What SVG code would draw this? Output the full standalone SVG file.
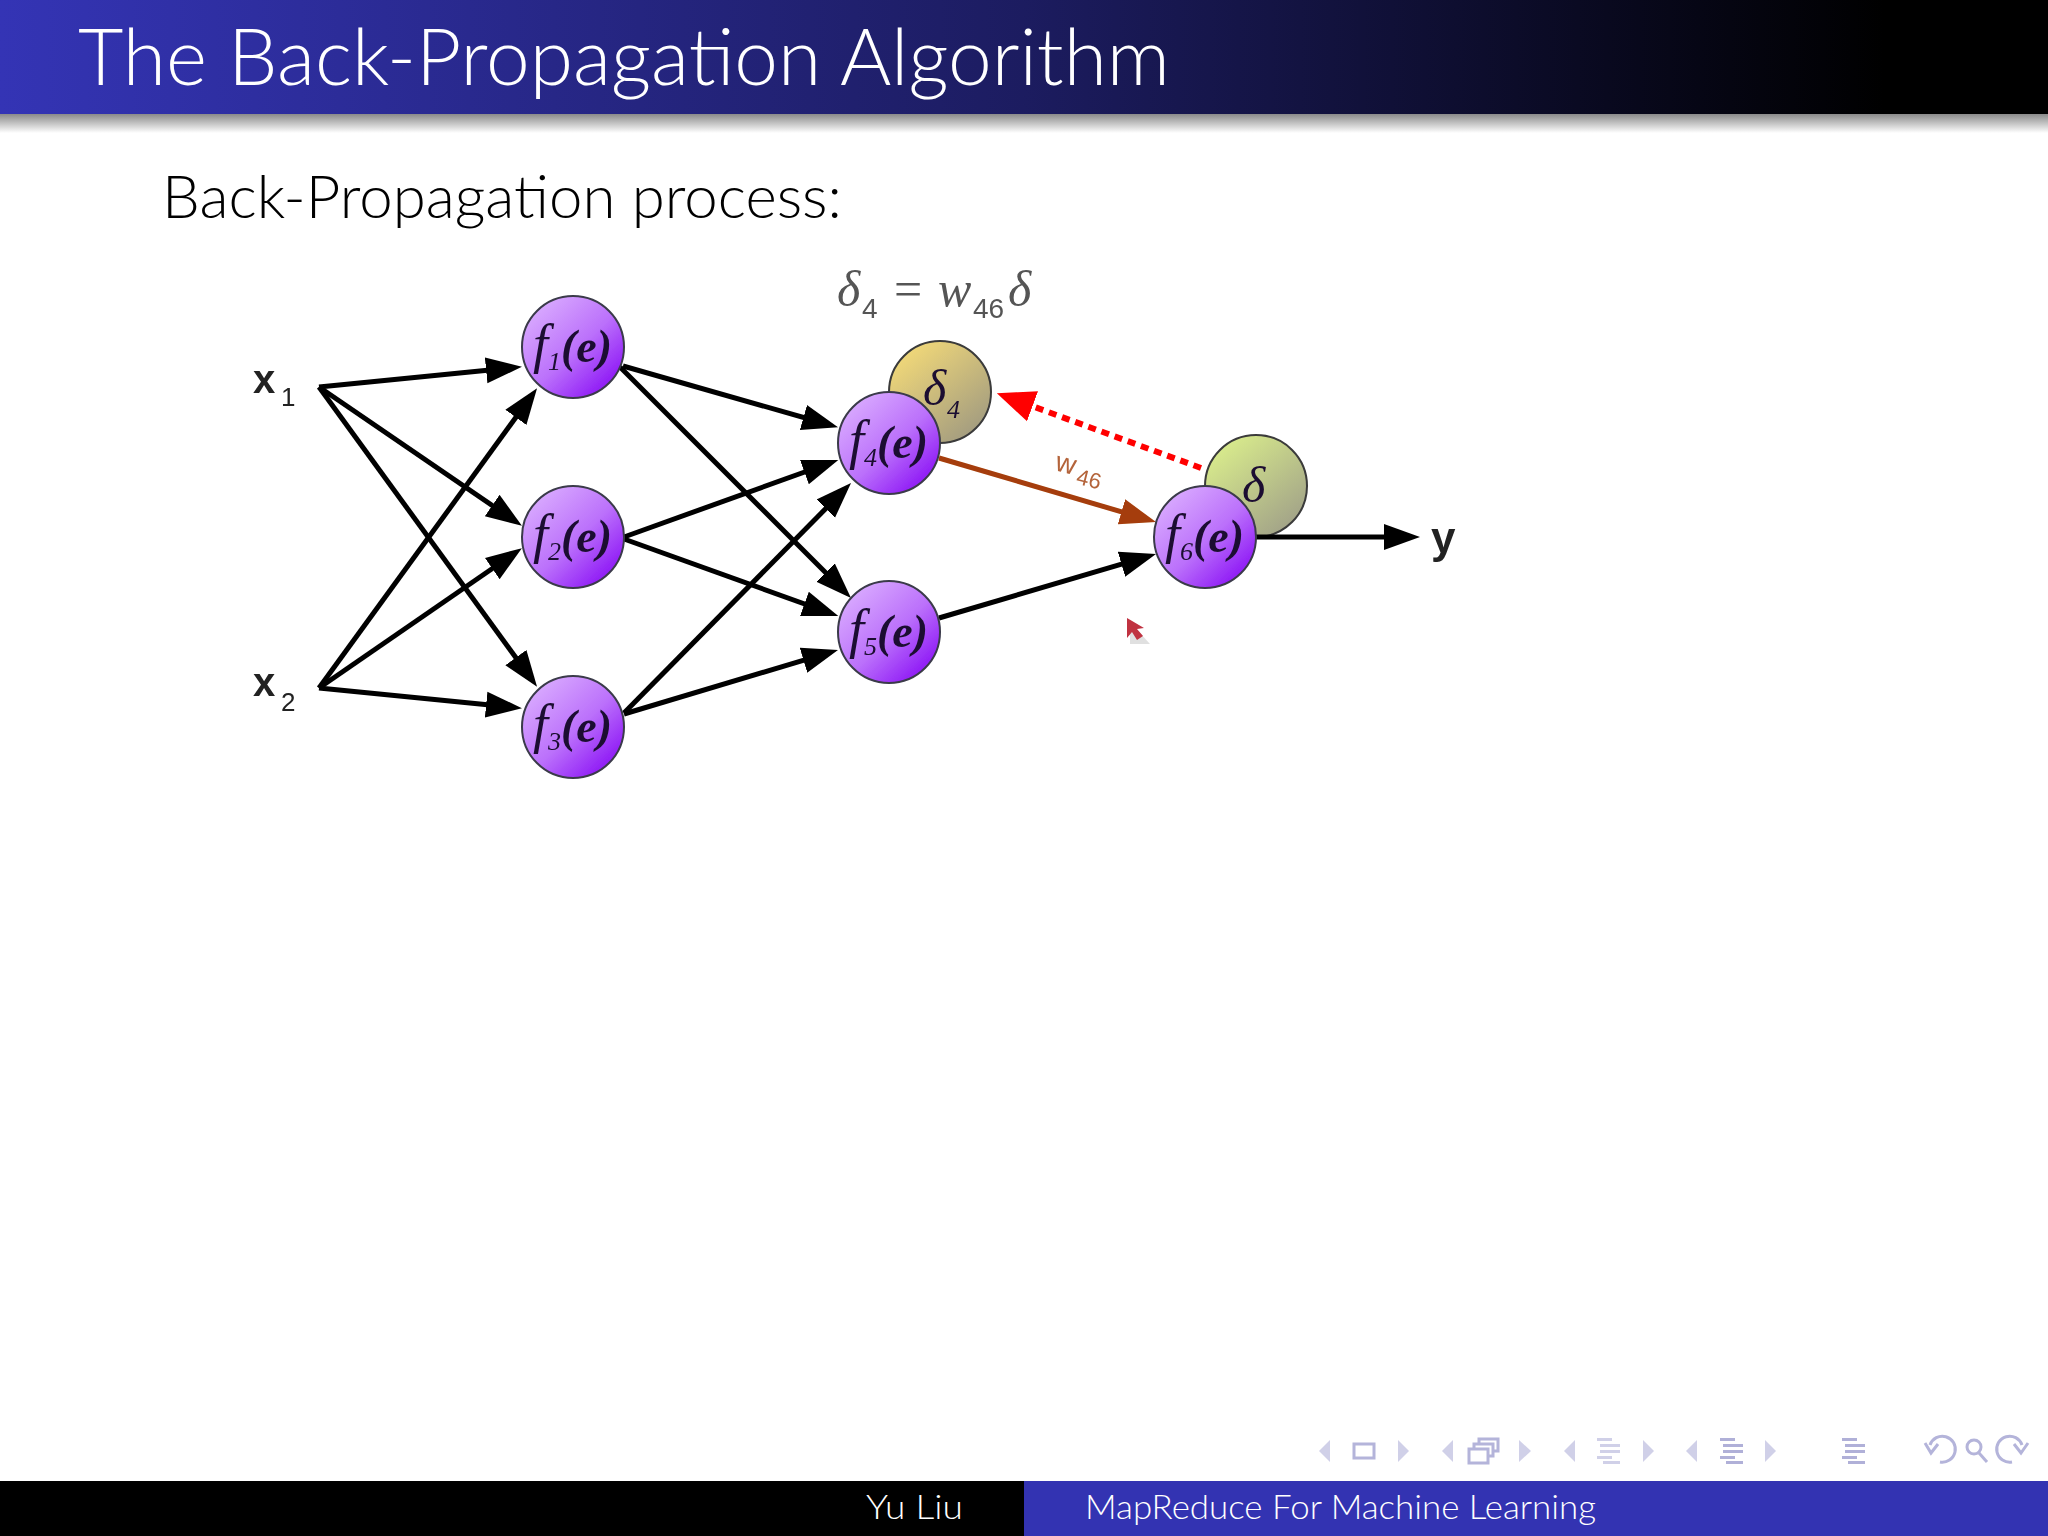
<svg xmlns="http://www.w3.org/2000/svg" width="2048" height="1536" viewBox="0 0 2048 1536">
<defs>
<linearGradient id="hdr" x1="0" y1="0" x2="1" y2="0"><stop offset="0" stop-color="#3434b5"/><stop offset="0.5" stop-color="#1c1c60"/><stop offset="0.92" stop-color="#000"/></linearGradient>
<linearGradient id="shd" x1="0" y1="0" x2="0" y2="1"><stop offset="0" stop-color="#8a8a8a"/><stop offset="1" stop-color="#fff"/></linearGradient>
<linearGradient id="pur" x1="0.05" y1="0.1" x2="0.85" y2="0.95"><stop offset="0" stop-color="#dcb0ff"/><stop offset="0.55" stop-color="#bb70fb"/><stop offset="1" stop-color="#8a10f5"/></linearGradient>
<linearGradient id="yel" x1="0.1" y1="0.05" x2="0.85" y2="0.95"><stop offset="0" stop-color="#f6dc78"/><stop offset="1" stop-color="#a09a80"/></linearGradient>
<linearGradient id="grn" x1="0.1" y1="0.05" x2="0.85" y2="0.95"><stop offset="0" stop-color="#dcf08c"/><stop offset="1" stop-color="#a0a088"/></linearGradient>
<marker id="ab" markerUnits="userSpaceOnUse" markerWidth="40" markerHeight="30" refX="24" refY="14" orient="auto"><path d="M0 1L36 14L0 27Z" fill="#000"/></marker>
<marker id="ar" markerUnits="userSpaceOnUse" markerWidth="40" markerHeight="36" refX="24" refY="18" orient="auto"><path d="M0 2L38 18L0 34Z" fill="#f00"/></marker>
<marker id="abr" markerUnits="userSpaceOnUse" markerWidth="40" markerHeight="30" refX="24" refY="14" orient="auto"><path d="M0 1L36 14L0 27Z" fill="#a53c08"/></marker>
<filter id="soft" x="-5%" y="-5%" width="110%" height="110%"><feGaussianBlur stdDeviation="0.7"/></filter>
</defs>
<style>
.cm{font-family:"Lato","Open Sans","Liberation Sans",sans-serif;font-weight:300}
.c{fill:none;stroke:#000;stroke-width:5;marker-end:url(#ab)}
.n{stroke:#3a3a4a;stroke-width:2;fill:url(#pur)}
.l{font-family:"Liberation Serif",serif;font-style:italic;fill:#1c1030}
.inp{font-family:"Liberation Sans",sans-serif;font-weight:bold;fill:#222}
.sub{font-family:"Liberation Sans",sans-serif;fill:#222}
.nav{fill:#d0d0e8;stroke:none}
.navd{fill:#b0b0d8;stroke:none}
.navs{fill:none;stroke:#b4b4da;stroke-width:3}
</style>
<rect width="2048" height="1536" fill="#fff"/>

<g id="header">
<rect x="0" y="114" width="2048" height="19" fill="url(#shd)"/>
<rect x="0" y="0" width="2048" height="114" fill="url(#hdr)"/>
<text class="cm" x="78" y="85" font-size="78" fill="#fff" textLength="1092" lengthAdjust="spacingAndGlyphs">The Back-Propagation Algorithm</text>
</g>
<text id="subtitle" class="cm" x="162" y="218" font-size="60" fill="#000" textLength="680" lengthAdjust="spacingAndGlyphs">Back-Propagation process:</text>

<g id="diagram" filter="url(#soft)">
<g id="formula" font-family="Liberation Serif, serif" fill="#555">
<text x="837" y="306" font-size="50" font-style="italic">δ</text>
<text x="862" y="318" font-size="28" font-family="Liberation Sans, sans-serif">4</text>
<text x="894" y="306" font-size="50">=</text>
<text x="938" y="306" font-size="50" font-style="italic">w</text>
<text x="973" y="318" font-size="28" font-family="Liberation Sans, sans-serif">46</text>
<text x="1008" y="306" font-size="50" font-style="italic">δ</text>
</g>
<g id="input-x1"><text class="inp" x="253" y="393" font-size="40">x</text><text class="sub" x="281" y="406" font-size="26">1</text></g>
<g id="input-x2"><text class="inp" x="253" y="696" font-size="40">x</text><text class="sub" x="281" y="711" font-size="26">2</text></g>
<g id="output-y"><text class="inp" x="1431" y="553" font-size="44">y</text></g>

<g id="delta4"><circle cx="940" cy="392" r="51" fill="url(#yel)" stroke="#3a3a3a" stroke-width="2"/>
<text class="l" x="923" y="405" font-size="50" fill="#111">δ</text><text class="l" x="947" y="418" font-size="26" fill="#222">4</text></g>
<g id="delta"><circle cx="1256" cy="486" r="51" fill="url(#grn)" stroke="#3a3a3a" stroke-width="2"/>
<text class="l" x="1242" y="502" font-size="50" fill="#111">δ</text></g>

<g id="connectors">
<path class="c" d="M319 387L510 368"/>
<path class="c" d="M319 387L512 519"/>
<path class="c" d="M319 387L530 677"/>
<path class="c" d="M319 688L530 398"/>
<path class="c" d="M319 688L512 555"/>
<path class="c" d="M319 688L510 707"/>
<path class="c" d="M623 366L826.500 424"/>
<path class="c" d="M620 367L842.500 589.500"/>
<path class="c" d="M624 537L827 464"/>
<path class="c" d="M624 539L827 612"/>
<path class="c" d="M624 713L842.600 491.500"/>
<path class="c" d="M624 714L826.500 653.400"/>
<path class="c" d="M939 458L1144.500 518.600" style="stroke:#a53c08;marker-end:url(#abr)"/>
<path class="c" d="M939 618L1144.500 557.400"/>
<path class="c" d="M1256 537L1408 537"/>
<path d="M1201 468L1010 398" fill="none" stroke="#f00" stroke-width="6" stroke-dasharray="8 6" marker-end="url(#ar)"/>
</g>

<g id="f1"><circle class="n" cx="573" cy="347" r="51"/><text class="l" x="533" y="362" font-size="46"><tspan font-size="54">f</tspan><tspan font-size="26" dy="8">1</tspan><tspan dy="-8" font-weight="bold">(e)</tspan></text></g>
<g id="f2"><circle class="n" cx="573" cy="537" r="51"/><text class="l" x="533" y="552" font-size="46"><tspan font-size="54">f</tspan><tspan font-size="26" dy="8">2</tspan><tspan dy="-8" font-weight="bold">(e)</tspan></text></g>
<g id="f3"><circle class="n" cx="573" cy="727" r="51"/><text class="l" x="533" y="742" font-size="46"><tspan font-size="54">f</tspan><tspan font-size="26" dy="8">3</tspan><tspan dy="-8" font-weight="bold">(e)</tspan></text></g>
<g id="f4"><circle class="n" cx="889" cy="443" r="51"/><text class="l" x="849" y="458" font-size="46"><tspan font-size="54">f</tspan><tspan font-size="26" dy="8">4</tspan><tspan dy="-8" font-weight="bold">(e)</tspan></text></g>
<g id="f5"><circle class="n" cx="889" cy="632" r="51"/><text class="l" x="849" y="647" font-size="46"><tspan font-size="54">f</tspan><tspan font-size="26" dy="8">5</tspan><tspan dy="-8" font-weight="bold">(e)</tspan></text></g>
<g id="f6"><circle class="n" cx="1205" cy="537" r="51"/><text class="l" x="1165" y="552" font-size="46"><tspan font-size="54">f</tspan><tspan font-size="26" dy="8">6</tspan><tspan dy="-8" font-weight="bold">(e)</tspan></text></g>

<g id="w46-label" transform="rotate(14 1054 470)" fill="#b4643a" font-family="Liberation Sans, sans-serif"><text x="1054" y="470" font-size="28">w</text><text x="1078" y="478" font-size="22">46</text></g>
<g id="cursor"><path d="M1130 622L1130 644L1150 644Z" fill="#ccc" opacity="0.6"/><path d="M1127 618L1127 638L1132 632L1137 640L1143 636L1137 629L1144 628Z" fill="#c03040"/></g>
</g>

<g id="footer">
<rect x="0" y="1481" width="1024" height="55" fill="#000"/>
<rect x="1024" y="1481" width="1024" height="55" fill="#3333b2"/>
<text class="cm" x="866" y="1519" font-size="34" fill="#fff" textLength="97" lengthAdjust="spacingAndGlyphs">Yu Liu</text>
<text class="cm" x="1085" y="1519" font-size="34" fill="#fff" textLength="511" lengthAdjust="spacingAndGlyphs">MapReduce For Machine Learning</text>
</g>

<g id="navigation">
<path class="nav" d="M1330 1440L1319 1451L1330 1462Z"/>
<rect class="navs" x="1354" y="1444" width="20" height="14"/>
<path class="nav" d="M1398 1440L1409 1451L1398 1462Z"/>
<path class="nav" d="M1453 1440L1442 1451L1453 1462Z"/>
<rect class="navs" x="1469" y="1449" width="19" height="14" fill="#fff"/>
<path class="navs" d="M1474 1449V1444H1493V1456H1488M1479 1444V1439H1498V1451H1493"/>
<path class="nav" d="M1519 1440L1531 1451L1519 1462Z"/>
<path class="nav" d="M1575 1440L1564 1451L1575 1462Z"/>
<path class="nav" d="M1597 1438H1612V1441H1597ZM1600 1444H1620V1447H1600ZM1600 1450H1620V1453H1600ZM1597 1456H1612V1459H1597ZM1603 1461H1620V1464H1603Z"/>
<path class="nav" d="M1643 1440L1654 1451L1643 1462Z"/>
<path class="nav" d="M1697 1440L1686 1451L1697 1462Z"/>
<path class="navd" d="M1720 1438H1735V1441H1720ZM1723 1444H1743V1447H1723ZM1723 1450H1743V1453H1723ZM1720 1456H1735V1459H1720ZM1726 1461H1743V1464H1726Z"/>
<path class="nav" d="M1765 1440L1776 1451L1765 1462Z"/>
<path class="navd" d="M1842 1438H1857V1441H1842ZM1845 1444H1865V1447H1845ZM1845 1450H1865V1453H1845ZM1842 1456H1857V1459H1842ZM1848 1461H1865V1464H1848Z"/>
<path class="navs" d="M1930 1445A13 13 0 1 1 1940 1462M1925 1443L1931 1453L1938 1444"/>
<circle class="navs" cx="1974" cy="1447" r="7"/><path class="navs" d="M1979 1453L1987 1462" stroke-width="4"/>
<path class="navs" d="M2022 1445A13 13 0 1 0 2012 1462M2028 1443L2021 1453L2014 1444"/>
</g>
</svg>
